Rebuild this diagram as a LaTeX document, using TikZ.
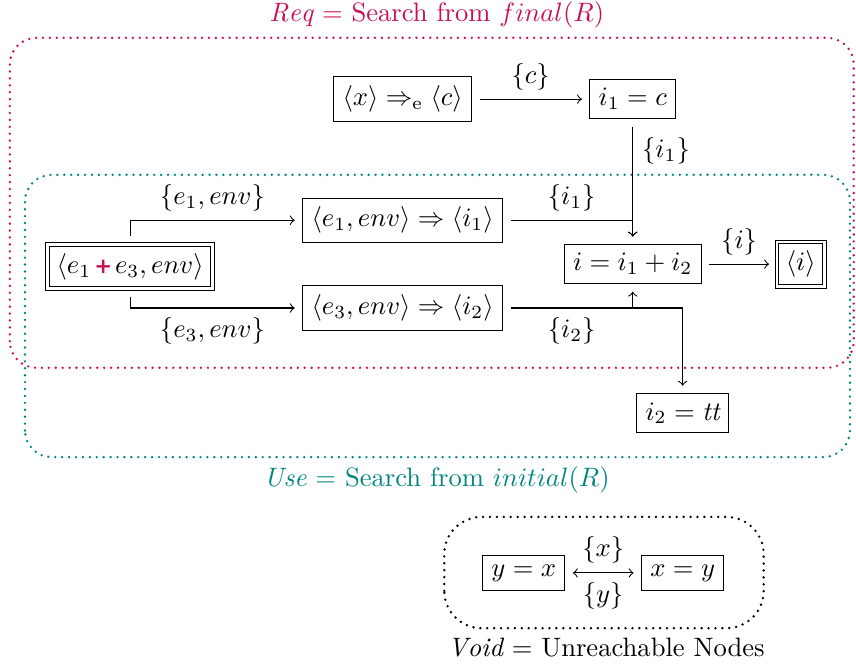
\documentclass[tikz,border=0pt]{standalone}
\usepackage{amsmath,amssymb}
\usepackage{fontspec}
\newfontfamily\plusfont{DejaVu Sans}
\definecolor{reqcol}{RGB}{200,16,90}
\definecolor{usecol}{RGB}{0,133,128}
\newcommand{\redplus}{\mkern2mu\text{\plusfont\bfseries\footnotesize\color{reqcol}+}\mkern2mu}
\begin{document}
\begin{tikzpicture}[x=1cm,y=1cm,
  box/.style={draw,outer sep=3pt},
  dbox/.style={draw,double,double distance=1pt,outer sep=3pt},
  region/.style={line width=1pt,line cap=round,dash pattern=on 0pt off 2.6pt,rounded corners=10pt}]
\useasboundingbox (0,0) rectangle (11.31,8.84);

\draw[region,reqcol] (0.13,3.98) rectangle (11.28,8.34);
\draw[region,usecol] (0.33,2.80) rectangle (11.23,6.53);
\draw[region,rounded corners=14pt] (5.87,0.54) rectangle (10.09,2.01);

\node[reqcol] (reqlbl) at (5.77,8.64) {$\mathit{Req}$ = Search from $final(R)$};
\node[usecol] (uselbl) at (5.77,2.50) {$\mathit{Use}$ = Search from $initial(R)$};
\node (voidlbl) at (8.01,0.28) {$\mathit{Void}$ = Unreachable Nodes};

\node[box] (xe) at (5.32,7.53) {$\langle x\rangle \Rightarrow_{\mathrm{e}} \langle c\rangle$};
\node[box] (ic) at (8.36,7.53) {$i_1 = c$};
\node[dbox] (sum) at (1.72,5.32) {$\langle e_1 \redplus e_3, env\rangle$};
\node[box] (ea) at (5.32,5.93) {$\langle e_1, env\rangle \Rightarrow \langle i_1\rangle$};
\node[box] (eb) at (5.32,4.77) {$\langle e_3, env\rangle \Rightarrow \langle i_2\rangle$};
\node[box] (add) at (8.36,5.35) {$i = i_1 + i_2$};
\node[dbox] (res) at (10.58,5.35) {$\langle i\rangle$};
\node[box] (itt) at (9.02,3.38) {$i_2 = \text{\itshape tt}$};
\node[box] (yx) at (6.92,1.27) {$y = x$};
\node[box] (xy) at (9.02,1.27) {$x = y$};

\draw[->] (xe) -- node[above] {$\{c\}$} (ic);
\draw[->] (ic) -- node[right,pos=0.22] {$\{i_1\}$} (add);
\draw[->] (sum) |- node[pos=0.75,above] {$\{e_1, env\}$} (ea);
\draw[->] (sum) |- node[pos=0.75,below] {$\{e_3, env\}$} (eb);
\draw[->] (ea) -| node[pos=0.25,above] {$\{i_1\}$} (add);
\draw[->] (eb) -| node[pos=0.25,below] {$\{i_2\}$} (add);
\draw[->] (eb) -| (itt);
\draw[->] (add) -- node[above] {$\{i\}$} (res);
\draw[<->] (yx) -- node[above] {$\{x\}$} node[below] {$\{y\}$} (xy);
\end{tikzpicture}
\end{document}
